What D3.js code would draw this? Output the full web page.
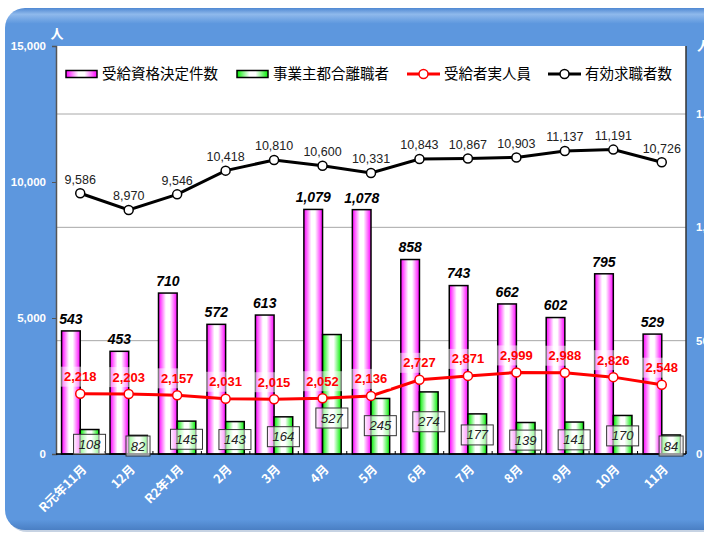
<!DOCTYPE html>
<html>
<head>
<meta charset="utf-8">
<script src="https://cdn.jsdelivr.net/npm/d3@7"></script>
<style>
  body { margin: 0; background: #fff; }
  svg { display: block; font-family: "Liberation Sans", Arial, sans-serif; }
  .jp { font-family: "Noto Sans CJK JP", "Liberation Sans", sans-serif; }
</style>
</head>
<body>
<div id="chart"></div>
<script>
// month labels
var months = ["R元年11月", "12月", "R2年1月", "2月", "3月", "4月", "5月", "6月", "7月", "8月", "9月", "10月", "11月"];
// bars (right axis)
var kettei = [543, 453, 710, 572, 613, 1079, 1078, 858, 743, 662, 602, 795, 529];
var jigyonushi = [108, 82, 145, 143, 164, 527, 245, 274, 177, 139, 141, 170, 84];
// lines (left axis)
var jukyusha = [2218, 2203, 2157, 2031, 2015, 2052, 2136, 2727, 2871, 2999, 2988, 2826, 2548];
var kyushoku = [9586, 8970, 9546, 10418, 10810, 10600, 10331, 10843, 10867, 10903, 11137, 11191, 10726];
var leftTicks = [0, 5000, 10000, 15000];
var rightTicks = [0, 500, 1000, 1500];

var W = 704, H = 533;
var margin = { top: 46, right: 18, bottom: 79, left: 56 };
var width = W - margin.left - margin.right;
var height = H - margin.top - margin.bottom;

var svg = d3.select("#chart").append("svg").attr("width", W).attr("height", H);
var defs = svg.append("defs");

// background panel
var bgGrad = defs.append("linearGradient").attr("id", "bgTop").attr("x1", 0).attr("y1", 0).attr("x2", 0).attr("y2", 1);
bgGrad.append("stop").attr("offset", 0).attr("stop-color", "#4f88d2");
bgGrad.append("stop").attr("offset", 0.012).attr("stop-color", "#8fb9ec");
bgGrad.append("stop").attr("offset", 0.03).attr("stop-color", "#5d97de");
bgGrad.append("stop").attr("offset", 0.98).attr("stop-color", "#5d97de");
bgGrad.append("stop").attr("offset", 1).attr("stop-color", "#4a7fc4");

svg.append("rect")
    .attr("x", 7).attr("y", 10).attr("width", 720).attr("height", 522)
    .attr("rx", 20).attr("fill", "#c7d3e3");
svg.append("rect")
    .attr("x", 5).attr("y", 8).attr("width", 720).attr("height", 522)
    .attr("rx", 20).attr("fill", "url(#bgTop)");

function barGrad(id, edge) {
    var g = defs.append("linearGradient").attr("id", id).attr("x1", 0).attr("x2", 1).attr("y1", 0).attr("y2", 0);
    g.append("stop").attr("offset", 0).attr("stop-color", edge);
    g.append("stop").attr("offset", 0.4).attr("stop-color", "#ffffff");
    g.append("stop").attr("offset", 0.6).attr("stop-color", "#ffffff");
    g.append("stop").attr("offset", 1).attr("stop-color", edge);
}
barGrad("pinkGrad", "#ff00ff");
barGrad("greenGrad", "#00ee00");

var g = svg.append("g").attr("transform", "translate(" + margin.left + "," + margin.top + ")");

var x = d3.scaleBand().domain(months).range([0, width]).paddingInner(0).paddingOuter(0);
var yL = d3.scaleLinear().domain([0, 15000]).range([height, 0]);
var yR = d3.scaleLinear().domain([0, 1800]).range([height, 0]);

// plot area
g.append("rect").attr("width", width).attr("height", height).attr("fill", "#fff");

// gridlines (right axis)
g.selectAll(".grid").data(rightTicks.slice(1)).enter().append("line")
    .attr("x1", 0).attr("x2", width)
    .attr("y1", function (d) { return yR(d); }).attr("y2", function (d) { return yR(d); })
    .attr("stroke", "#a8a8a8").attr("stroke-width", 1);

var bw = x.bandwidth() * 0.385;

// bars
g.selectAll(".bar1").data(kettei).enter().append("rect")
    .attr("x", function (d, i) { return x(months[i]) + x.bandwidth() / 2 - bw; })
    .attr("y", function (d) { return yR(d); })
    .attr("width", bw).attr("height", function (d) { return height - yR(d); })
    .attr("fill", "url(#pinkGrad)").attr("stroke", "#000").attr("stroke-width", 1.5);

g.selectAll(".bar2").data(jigyonushi).enter().append("rect")
    .attr("x", function (d, i) { return x(months[i]) + x.bandwidth() / 2; })
    .attr("y", function (d) { return yR(d); })
    .attr("width", bw).attr("height", function (d) { return height - yR(d); })
    .attr("fill", "url(#greenGrad)").attr("stroke", "#000").attr("stroke-width", 1.5);

// axes
var leftAxis = d3.axisLeft(yL).tickValues(leftTicks).tickSize(4).tickFormat("");
g.append("g").call(leftAxis).call(function (s) {
    s.select(".domain").attr("stroke", "#555").attr("stroke-width", 1.5);
    s.selectAll(".tick line").attr("stroke", "#555");
});
g.append("line").attr("x1", width).attr("x2", width).attr("y1", 0).attr("y2", height)
    .attr("stroke", "#333").attr("stroke-width", 1.5);
g.append("line").attr("x1", 0).attr("x2", width).attr("y1", height).attr("y2", height)
    .attr("stroke", "#000").attr("stroke-width", 1.5);
g.selectAll(".xtick").data(months).enter().append("line")
    .attr("x1", function (d) { return x(d) + x.bandwidth(); })
    .attr("x2", function (d) { return x(d) + x.bandwidth(); })
    .attr("y1", height).attr("y2", height - 3)
    .attr("stroke", "#000");

g.selectAll(".ylab").data(leftTicks).enter().append("text")
    .attr("x", -10).attr("y", function (d) { return yL(d); }).attr("dy", "0.35em")
    .attr("text-anchor", "end").attr("fill", "#fff")
    .style("font-size", "11.5px").style("font-weight", "bold")
    .text(d3.format(","));

// right axis labels run past the window edge, as in the source
g.selectAll(".yrlab").data(rightTicks).enter().append("text")
    .attr("x", width + 10).attr("y", function (d) { return yR(d); }).attr("dy", "0.35em")
    .attr("fill", "#fff")
    .style("font-size", "11.5px").style("font-weight", "bold")
    .text(d3.format(","));

svg.append("text").attr("class", "jp").attr("x", 57).attr("y", 38).attr("text-anchor", "middle")
    .attr("fill", "#fff").style("font-size", "13px").style("font-weight", "bold").text("人");
svg.append("text").attr("class", "jp").attr("x", 697).attr("y", 50)
    .attr("fill", "#fff").style("font-size", "13px").style("font-weight", "bold").text("人");

// x labels
g.selectAll(".xlab").data(months).enter().append("text")
    .attr("class", "jp")
    .attr("transform", function (d) {
        return "translate(" + (x(d) + x.bandwidth() / 2 + 4) + "," + (height + 13) + ") rotate(-45)";
    })
    .attr("text-anchor", "end").attr("dy", "0.35em")
    .attr("fill", "#fff").style("font-size", "12.5px").style("font-weight", "bold")
    .text(function (d) { return d; });

// lines
function cx(i) { return x(months[i]) + x.bandwidth() / 2; }

var lineL = d3.line().x(function (d, i) { return cx(i); }).y(function (d) { return yL(d); });

g.append("path").datum(kyushoku).attr("d", lineL)
    .attr("fill", "none").attr("stroke", "#000").attr("stroke-width", 3);
g.selectAll(".pk").data(kyushoku).enter().append("circle")
    .attr("cx", function (d, i) { return cx(i); }).attr("cy", function (d) { return yL(d); })
    .attr("r", 4.5).attr("fill", "#fff").attr("stroke", "#000").attr("stroke-width", 1.5);

g.append("path").datum(jukyusha).attr("d", lineL)
    .attr("fill", "none").attr("stroke", "#ff0000").attr("stroke-width", 3);
g.selectAll(".pj").data(jukyusha).enter().append("circle")
    .attr("cx", function (d, i) { return cx(i); }).attr("cy", function (d) { return yL(d); })
    .attr("r", 4.5).attr("fill", "#fff").attr("stroke", "#ff0000").attr("stroke-width", 1.5);

// labels: 有効求職者数
g.selectAll(".lk").data(kyushoku).enter().append("text")
    .attr("x", function (d, i) { return cx(i); }).attr("y", function (d) { return yL(d) - 14; })
    .attr("dy", "0.35em").attr("text-anchor", "middle")
    .attr("fill", "#222").style("font-size", "12.5px")
    .text(d3.format(","));

// labels: 受給資格決定件数
g.selectAll(".lb1").data(kettei).enter().append("text")
    .attr("x", function (d, i) { return cx(i) - bw / 2; }).attr("y", function (d) { return yR(d) - 12; })
    .attr("dy", "0.35em").attr("text-anchor", "middle")
    .attr("fill", "#000").style("font-size", "14px").style("font-weight", "bold").style("font-style", "italic")
    .text(d3.format(","));

// labels: 受給者実人員
var rl = g.selectAll(".lj").data(jukyusha).enter().append("g")
    .attr("transform", function (d, i) { return "translate(" + cx(i) + "," + (yL(d) - 17) + ")"; });
rl.append("rect").attr("x", -20).attr("y", -10).attr("width", 40).attr("height", 20)
    .attr("fill", "#fff").attr("opacity", 0.5);
rl.append("text").attr("dy", "0.35em").attr("text-anchor", "middle")
    .attr("fill", "#ff0000").style("font-size", "13px").style("font-weight", "bold")
    .text(d3.format(","));

// labels: 事業主都合離職者
var gl = g.selectAll(".lb2").data(jigyonushi).enter().append("g")
    .attr("transform", function (d, i) {
        var h = height - yR(d);
        var lift = Math.min(36, Math.max(8, h * 0.6 - 5));
        return "translate(" + (cx(i) + bw / 2) + "," + (height - lift) + ")";
    });
gl.append("rect")
    .attr("x", function (d) { return d < 100 ? -12 : -16; }).attr("y", -10)
    .attr("width", function (d) { return d < 100 ? 24 : 32; }).attr("height", 20)
    .attr("fill", "#fff").attr("fill-opacity", 0.6).attr("stroke", "#333").attr("stroke-width", 1);
gl.append("text").attr("dy", "0.35em").attr("text-anchor", "middle")
    .attr("fill", "#222").style("font-size", "13px").style("font-style", "italic")
    .text(d3.format(","));

// legend
var legend = svg.append("g").attr("transform", "translate(0,74)");
var items = [
    { label: "受給資格決定件数", type: "bar", fill: "url(#pinkGrad)", x: 66, tx: 102 },
    { label: "事業主都合離職者", type: "bar", fill: "url(#greenGrad)", x: 237, tx: 273 },
    { label: "受給者実人員", type: "line", color: "#ff0000", x: 407, tx: 444 },
    { label: "有効求職者数", type: "line", color: "#000", x: 548, tx: 585 }
];
items.forEach(function (it) {
    if (it.type === "bar") {
        legend.append("rect").attr("x", it.x).attr("y", -3.5).attr("width", 31).attr("height", 7)
            .attr("fill", it.fill).attr("stroke", "#000").attr("stroke-width", 1.5);
    } else {
        legend.append("line").attr("x1", it.x).attr("x2", it.x + 33).attr("y1", 0).attr("y2", 0)
            .attr("stroke", it.color).attr("stroke-width", 3);
        legend.append("circle").attr("cx", it.x + 16.5).attr("cy", 0).attr("r", 4.5)
            .attr("fill", "#fff").attr("stroke", it.color).attr("stroke-width", 1.5);
    }
    legend.append("text").attr("class", "jp").attr("x", it.tx).attr("y", 0).attr("dy", "0.35em")
        .attr("fill", "#000").style("font-size", "14.5px").text(it.label);
});
</script>
</body>
</html>
